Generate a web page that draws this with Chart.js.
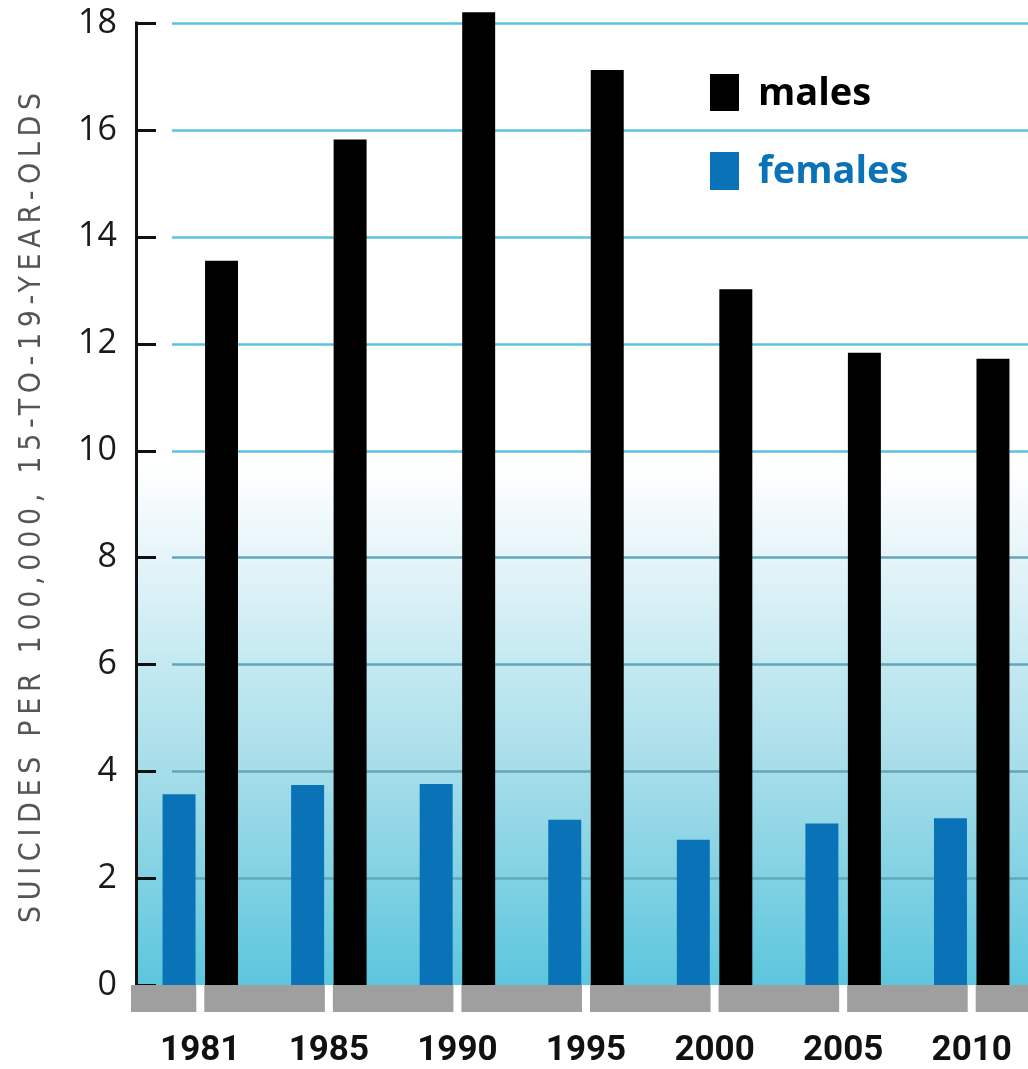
<!DOCTYPE html>
<html>
<head>
<meta charset="utf-8">
<title>Teen suicide rates by sex</title>
<script src="https://cdn.jsdelivr.net/npm/chart.js@4.4.1/dist/chart.umd.min.js"></script>
<style>
  html, body { margin: 0; padding: 0; background: #ffffff; overflow: hidden; }
  #wrap { position: relative; width: 1036px; height: 1069px; }
</style>
</head>
<body>
<div id="wrap"><canvas id="chart"></canvas></div>
<script>
// Survey years along the x axis
const years = ['1981', '1985', '1990', '1995', '2000', '2005', '2010'];
// Suicides per 100,000 people aged 15 to 19
const females = [3.57, 3.74, 3.76, 3.09, 2.72, 3.02, 3.12];
const males = [13.55, 15.82, 18.2, 17.12, 13.02, 11.83, 11.72];
// Value axis range and step
const yMin = 0;
const yMax = 18;
const yStep = 2;
const yTitle = 'SUICIDES PER 100,000, 15-TO-19-YEAR-OLDS';
const seriesNames = { females: 'females', males: 'males' };

const FEMALE_BLUE = '#0a72b6';
const MALE_BLACK = '#000000';

// Gradient panel, gridlines and inward tick marks behind the bars
const backdrop = {
  id: 'backdrop',
  beforeDatasetsDraw(chart) {
    const { ctx, chartArea: a, scales: { y } } = chart;
    ctx.save();
    const g = ctx.createLinearGradient(0, a.top, 0, a.bottom);
    g.addColorStop(0, '#ffffff');
    g.addColorStop(0.46, '#ffffff');
    g.addColorStop(0.56, '#e4f4f9');
    g.addColorStop(0.667, '#c4e9f1');
    g.addColorStop(0.776, '#a6dde9');
    g.addColorStop(1, '#5cc6dd');
    ctx.fillStyle = g;
    ctx.fillRect(a.left, a.top - 2, a.right - a.left, a.bottom - a.top + 2);

    y.ticks.forEach(t => {
      const py = Math.round(y.getPixelForValue(t.value)) + 0.5;
      if (t.value > yMin) {
        ctx.strokeStyle = t.value >= 10 ? '#5cc2e2' : '#62a7b9';
        ctx.lineWidth = 2.5;
        ctx.beginPath();
        ctx.moveTo(a.left + 36, py);
        ctx.lineTo(a.right, py);
        ctx.stroke();
      }
      ctx.strokeStyle = '#111';
      ctx.lineWidth = 3;
      ctx.beginPath();
      ctx.moveTo(a.left, py);
      ctx.lineTo(a.left + 20, py);
      ctx.stroke();
    });

    ctx.strokeStyle = '#111';
    ctx.lineWidth = 3;
    ctx.beginPath();
    ctx.moveTo(a.left + 0.5, y.getPixelForValue(yMax) - 1.5);
    ctx.lineTo(a.left + 0.5, a.bottom);
    ctx.stroke();
    ctx.restore();
  },
  afterDatasetsDraw(chart) {
    const { ctx, chartArea: a, scales: { x } } = chart;
    ctx.save();

    // grey base strip, split under the middle of each year group
    ctx.fillStyle = '#9f9f9f';
    const n = years.length;
    for (let i = 0; i <= n; i++) {
      const start = i === 0 ? a.left - 5 : x.getPixelForValue(i - 1) + 4;
      const end = i === n ? a.right : x.getPixelForValue(i) - 4;
      ctx.fillRect(start, a.bottom, end - start, 27);
    }

    // legend
    const lx = a.left + 574;
    ctx.textAlign = 'left';
    ctx.textBaseline = 'alphabetic';
    ctx.font = 'bold 38px "Open Sans", sans-serif';
    ctx.fillStyle = MALE_BLACK;
    ctx.fillRect(lx, 74, 29, 37);
    ctx.fillText(seriesNames.males, lx + 48, 105);
    ctx.fillStyle = FEMALE_BLUE;
    ctx.fillRect(lx, 152, 29, 38);
    ctx.fillText(seriesNames.females, lx + 48, 183);

    // rotated axis title, letter-spaced to run 830px
    ctx.translate(32, 508);
    ctx.rotate(-Math.PI / 2);
    ctx.font = '30px "DejaVu Sans Condensed", "DejaVu Sans", sans-serif';
    ctx.letterSpacing = '0px';
    const w = ctx.measureText(yTitle).width;
    const sp = Math.max(0, (830 - w) / (yTitle.length - 1));
    ctx.letterSpacing = sp.toFixed(2) + 'px';
    ctx.fillStyle = '#555555';
    ctx.textAlign = 'left';
    ctx.textBaseline = 'middle';
    ctx.fillText(yTitle, -415, 0);
    ctx.restore();
  }
};

new Chart(document.getElementById('chart'), {
  type: 'bar',
  data: {
    labels: years,
    datasets: [
      { label: seriesNames.females, data: females, backgroundColor: FEMALE_BLUE,
        categoryPercentage: 0.661, barPercentage: 0.776, clip: false },
      { label: seriesNames.males, data: males, backgroundColor: MALE_BLACK,
        categoryPercentage: 0.661, barPercentage: 0.776, clip: false }
    ]
  },
  options: {
    responsive: true,
    maintainAspectRatio: false,
    animation: false,
    layout: { padding: { top: 23, right: 0, bottom: 0, left: 0 } },
    plugins: { legend: { display: false }, tooltip: { enabled: false } },
    scales: {
      x: {
        grid: { display: false, drawTicks: false },
        border: { display: false },
        ticks: {
          color: '#111',
          padding: 45,
          font: { family: 'Roboto, sans-serif', size: 35, weight: 'bold' }
        },
        afterFit(scale) {
          scale.height = 84;
          scale.paddingLeft = 0;
          scale.paddingRight = 0;
        }
      },
      y: {
        min: yMin,
        max: yMax,
        grid: { display: false, drawTicks: false },
        border: { display: false },
        ticks: {
          stepSize: yStep,
          color: '#1a1a1a',
          padding: 19,
          font: { family: '"Open Sans", sans-serif', size: 34 }
        },
        afterFit(scale) {
          scale.width = 136;
          scale.paddingTop = 0;
          scale.paddingBottom = 0;
        }
      }
    }
  },
  plugins: [backdrop]
});
</script>
</body>
</html>
